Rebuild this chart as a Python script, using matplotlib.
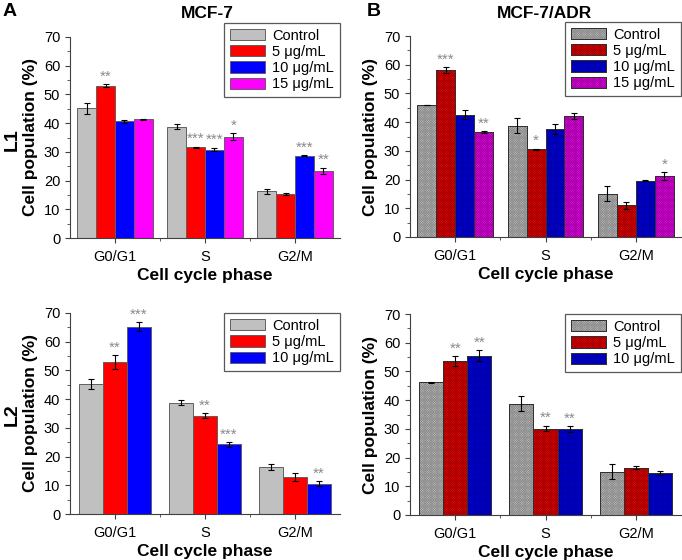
import matplotlib
matplotlib.use("Agg")
import matplotlib.pyplot as plt
from matplotlib.patches import Patch
from matplotlib.ticker import MultipleLocator, FixedLocator
import numpy as np

plt.rcParams['font.family'] = ['Liberation Sans', 'DejaVu Sans']
plt.rcParams['hatch.linewidth'] = 0.5

phases = ['G0/G1', 'S', 'G2/M']
doses4 = ['Control', '5 \u03bcg/mL', '10 \u03bcg/mL', '15 \u03bcg/mL']
doses3 = doses4[:3]

# L1 / MCF-7
a1_vals = [[45.2, 38.7, 16.2], [53.0, 31.6, 15.4], [40.6, 30.8, 28.7], [41.4, 35.3, 23.4]]
a1_err = [[1.9, 0.9, 1.0], [0.5, 0.2, 0.4], [0.5, 0.6, 0.2], [0.2, 1.2, 1.1]]
a1_sig = [['', '', ''], ['**', '***', ''], ['', '***', '***'], ['', '*', '**']]

# L1 / MCF-7/ADR
b1_vals = [[46.0, 38.8, 15.1], [58.2, 30.5, 11.0], [42.6, 37.7, 19.6], [36.5, 42.1, 21.2]]
b1_err = [[0.1, 2.7, 2.6], [1.0, 0.2, 1.2], [1.6, 1.8, 0.2], [0.3, 1.0, 1.3]]
b1_sig = [['', '', ''], ['***', '*', ''], ['', '', ''], ['**', '', '*']]

# L2 / MCF-7
a2_vals = [[45.2, 38.8, 16.3], [52.9, 34.3, 12.9], [65.2, 24.3, 10.6]]
a2_err = [[1.8, 0.8, 1.0], [2.3, 0.9, 1.5], [1.6, 0.8, 0.8]]
a2_sig = [['', '', ''], ['**', '**', ''], ['***', '***', '**']]

# L2 / MCF-7/ADR
b2_vals = [[46.2, 38.8, 15.1], [53.5, 30.1, 16.5], [55.5, 30.0, 14.6]]
b2_err = [[0.1, 2.7, 2.7], [1.7, 1.0, 0.6], [1.8, 1.0, 0.7]]
b2_sig = [['', '', ''], ['**', '**', ''], ['**', '**', '']]

colors = ['#c0c0c0', '#ff0000', '#0000ff', '#ff00ff']
hatch_colors = ['#8c8c8c', '#a00000', '#0000a0', '#a000a0']
HATCH = 'x' * 14

W, H = 682, 560
fig = plt.figure(figsize=(W / 100, H / 100), dpi=100)


def px_axes(left, top, right, bottom):
    return fig.add_axes([left / W, 1 - bottom / H, (right - left) / W, (bottom - top) / H])


def draw(ax, vals, errs, sigs, labels, hatched):
    n = len(vals)
    group = 0.84 if n == 4 else 0.8
    w = group / n
    x = np.arange(len(phases))
    edge = '#303030' if hatched else '#606060'
    handles = []
    for i in range(n):
        pos = x - group / 2 + w * (i + 0.5)
        ax.bar(pos, vals[i], w, color=colors[i], edgecolor=edge, linewidth=0.7, zorder=2)
        if hatched:
            ax.bar(pos, vals[i], w, fill=False, hatch=HATCH, edgecolor=hatch_colors[i],
                   linewidth=0, zorder=2.5)
            ax.bar(pos, vals[i], w, fill=False, edgecolor=edge, linewidth=0.7, zorder=2.6)
            h = (Patch(facecolor=colors[i], edgecolor=edge, linewidth=0.7),
                 Patch(fill=False, hatch=HATCH, edgecolor=hatch_colors[i], linewidth=0),
                 Patch(fill=False, edgecolor=edge, linewidth=0.7))
        else:
            h = Patch(facecolor=colors[i], edgecolor=edge, linewidth=0.7)
        handles.append(h)
        ax.errorbar(pos, vals[i], yerr=errs[i], fmt='none', ecolor='black', elinewidth=0.8,
                    capsize=2.2, capthick=0.8, zorder=3)
        for p, v, e, s in zip(pos, vals[i], errs[i], sigs[i]):
            if s:
                ax.text(p, v + e + 0.2, s, ha='center', va='bottom', color='#8a8a8a', fontsize=11)
    ax.set_xlim(-0.5, 2.5)
    ax.set_ylim(0, 70)
    ax.set_xticks(x)
    ax.set_xticklabels(phases)
    ax.xaxis.set_minor_locator(FixedLocator([0.5, 1.5]))
    ax.yaxis.set_major_locator(MultipleLocator(10))
    ax.yaxis.set_minor_locator(MultipleLocator(5))
    ax.tick_params(axis='both', which='major', direction='out', length=3.5, width=0.8,
                   labelsize=10.5, color='#404040')
    ax.tick_params(axis='x', labelsize=10.5, pad=5)
    ax.tick_params(axis='both', which='minor', direction='out', length=2, width=0.6, color='#404040')
    for side in ['top', 'right']:
        ax.spines[side].set_visible(False)
    for side in ['left', 'bottom']:
        ax.spines[side].set_color('#404040')
        ax.spines[side].set_linewidth(0.8)
    ax.set_ylabel('Cell population (%)', fontsize=12.5, fontweight='bold', labelpad=4)
    ax.set_xlabel('Cell cycle phase', fontsize=12.5, fontweight='bold', labelpad=3)
    top = 1.07 if n == 4 else 1.0
    leg = ax.legend(handles, labels, loc='upper right', bbox_to_anchor=(1.0, top),
                    fontsize=10.5, frameon=True, fancybox=False, edgecolor='#303030',
                    handlelength=2.4, handleheight=0.8, handletextpad=0.5,
                    borderpad=0.4, labelspacing=0.15, borderaxespad=0)
    leg.get_frame().set_linewidth(0.9)


ax1 = px_axes(70, 37, 340, 238)
ax2 = px_axes(410, 36, 681, 237)
ax3 = px_axes(70, 313, 340, 514)
ax4 = px_axes(410, 314, 681, 515)

draw(ax1, a1_vals, a1_err, a1_sig, doses4, False)
draw(ax2, b1_vals, b1_err, b1_sig, doses4, True)
draw(ax3, a2_vals, a2_err, a2_sig, doses3, False)
draw(ax4, b2_vals, b2_err, b2_sig, doses3, True)

fig.text(207 / W, 1 - 13 / H, 'MCF-7', ha='center', va='center', fontsize=12.5, fontweight='bold')
fig.text(544 / W, 1 - 13 / H, 'MCF-7/ADR', ha='center', va='center', fontsize=12.5, fontweight='bold')
fig.text(10 / W, 1 - 12 / H, 'A', ha='center', va='center', fontsize=14, fontweight='bold')
fig.text(374 / W, 1 - 12 / H, 'B', ha='center', va='center', fontsize=14, fontweight='bold')
fig.text(12 / W, 1 - 140 / H, 'L1', ha='center', va='center', rotation=90, fontsize=14, fontweight='bold')
fig.text(12 / W, 1 - 415 / H, 'L2', ha='center', va='center', rotation=90, fontsize=14, fontweight='bold')

fig.savefig('out.png', dpi=100)
